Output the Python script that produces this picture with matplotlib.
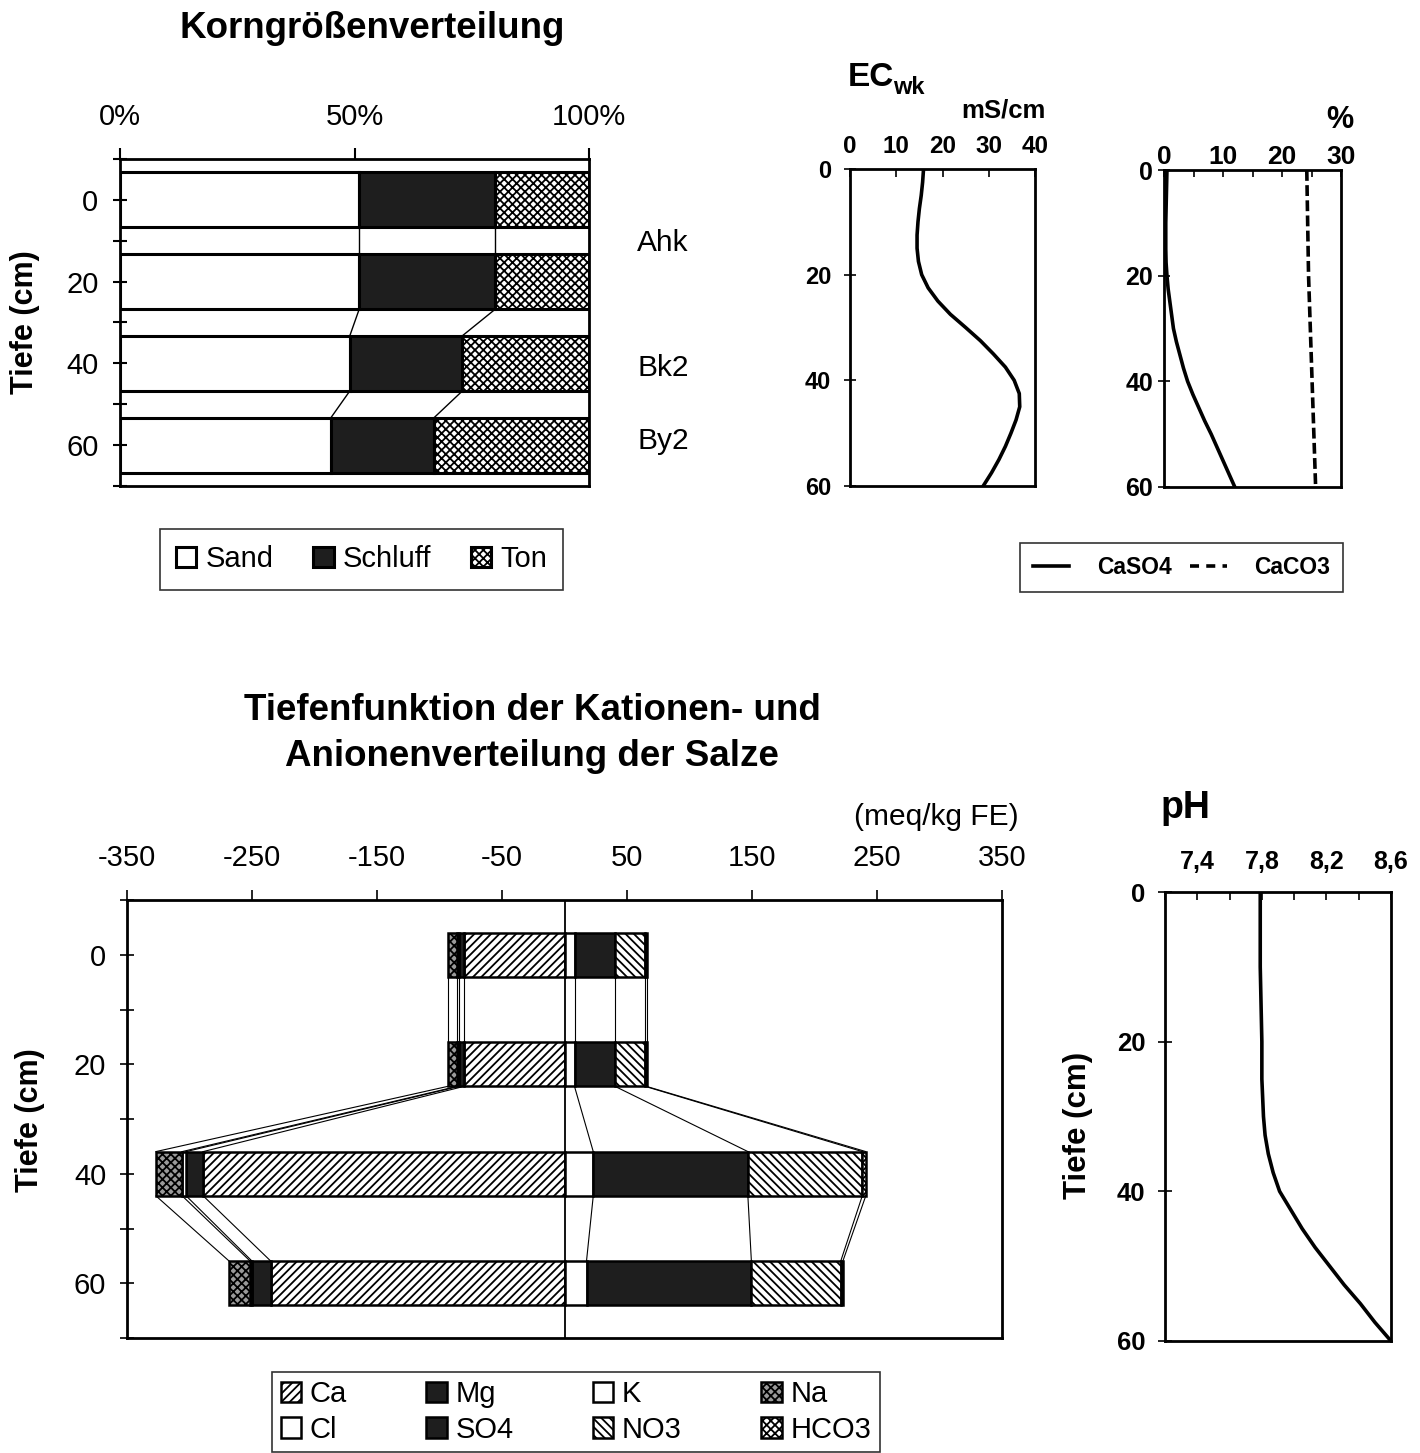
import matplotlib
matplotlib.use('Agg')
import matplotlib.pyplot as plt
from matplotlib.lines import Line2D

plt.rcParams['font.family'] = ['Liberation Sans', 'DejaVu Sans']
plt.rcParams['hatch.linewidth'] = 1.3
plt.rcParams['axes.unicode_minus'] = False

# ---------------- data ----------------
depths = [0, 20, 40, 60]
sand = [51, 51, 49, 45]
schluff = [29, 29, 24, 22]
ton = [20, 20, 27, 33]
horizons = ['Ahk', 'Bk2', 'By2']

ec_depth = [0, 2.5, 5, 7.5, 10, 12.5, 15, 17.5, 20, 22.5, 25, 27.5, 30, 32.5, 35,
            37.5, 40, 42.5, 45, 47.5, 50, 52.5, 55, 57.5, 60]
ec_val = [15.9, 15.7, 15.4, 15.0, 14.7, 14.5, 14.5, 14.8, 15.5, 16.9, 19.0, 21.7, 25.0,
          28.2, 31.0, 33.6, 35.5, 36.6, 36.7, 35.9, 34.8, 33.6, 32.2, 30.6, 28.8]

caso4_depth = [0, 5, 10, 15, 17.5, 20, 22.5, 25, 27.5, 30, 32.5, 35, 37.5, 40, 42.5,
               45, 47.5, 50, 52.5, 55, 57.5, 60]
caso4_val = [0.5, 0.4, 0.3, 0.3, 0.35, 0.5, 0.7, 1.0, 1.3, 1.6, 2.1, 2.7, 3.3, 4.0, 4.9,
             5.9, 6.9, 8.0, 9.0, 10.0, 11.0, 12.0]
caco3_depth = [0, 20, 40, 60]
caco3_val = [24.2, 24.5, 25.1, 25.7]

ph_depth = [0, 10, 20, 25, 30, 32.5, 35, 37.5, 40, 42.5, 45, 47.5, 50, 52.5, 55, 57.5, 60]
ph_val = [7.79, 7.79, 7.80, 7.80, 7.81, 7.82, 7.84, 7.87, 7.91, 7.98, 8.05, 8.13, 8.22,
          8.31, 8.41, 8.50, 8.60]

# meq/kg FE
ca = [80.6, 80.6, 289.0, 235.0]
mg = [4.0, 4.0, 13.6, 15.0]
k = [1.5, 1.5, 3.2, 1.5]
na = [7.5, 7.5, 21.0, 16.8]
cl = [8.0, 8.0, 23.0, 17.6]
so4 = [32.5, 32.5, 123.7, 131.9]
no3 = [24.2, 24.2, 91.5, 71.5]
hco3 = [1.0, 1.0, 2.8, 1.7]

# ---------------- layout helpers ----------------
W, H = 1420, 1453
fig = plt.figure(figsize=(W / 100, H / 100), dpi=100)
fig.patch.set_facecolor('white')


def ax_px(l, t, r, b):
    return fig.add_axes([l / W, 1 - b / H, (r - l) / W, (b - t) / H])


def ftext(x, y, s, **kw):
    kw.setdefault('ha', 'center')
    kw.setdefault('va', 'center')
    fig.text(x / W, 1 - y / H, s, **kw)


def frame(ax, lw=2.0):
    for sp in ax.spines.values():
        sp.set_linewidth(lw)
        sp.set_color('black')


def bold_ticks(ax):
    for lab in ax.get_xticklabels() + ax.get_yticklabels():
        lab.set_fontweight('bold')


DARK = '#1e1e1e'

# ---------------- Korngrößenverteilung ----------------
ax1 = ax_px(120, 159, 589, 486)
bh = 13.5
cum1 = sand
cum2 = [a + b for a, b in zip(sand, schluff)]
b_sand = ax1.barh(depths, sand, height=bh, color='white', edgecolor='black', lw=2.2)
b_silt = ax1.barh(depths, schluff, left=cum1, height=bh, color=DARK, edgecolor='black', lw=2.2)
b_ton = ax1.barh(depths, ton, left=cum2, height=bh, color='white', edgecolor='black',
                 lw=2.2, hatch='xxxx')
for cum in (cum1, cum2):
    for i in range(len(depths) - 1):
        ax1.plot([cum[i], cum[i + 1]], [depths[i] + bh / 2, depths[i + 1] - bh / 2],
                 color='black', lw=1.0)
ax1.set_xlim(0, 100)
ax1.set_ylim(70, -10)
ax1.xaxis.tick_top()
ax1.set_xticks([0, 50, 100])
ax1.set_xticklabels(['0%', '50%', '100%'], fontsize=21)
ax1.tick_params(axis='x', direction='out', length=8, width=1.5, pad=12.5)
ax1.set_yticks(list(range(-10, 71, 10)))
ax1.set_yticklabels(['' if t % 20 else str(t) for t in range(-10, 71, 10)], fontsize=21)
ax1.tick_params(axis='y', direction='inout', length=10, width=1.5, pad=10.5)
frame(ax1)
ftext(372, 28, 'Korngrößenverteilung', fontsize=26.5, fontweight='bold')
ftext(25, 322, 'Tiefe (cm)', fontsize=22, fontweight='bold', rotation=90)
for name, yy in zip(horizons, [243, 368, 441]):
    ftext(663, yy, name, fontsize=21.5)

leg1 = fig.legend([b_sand, b_silt, b_ton], ['Sand', 'Schluff', 'Ton'], ncol=3,
                  loc='center', bbox_to_anchor=(160 / W, 1 - 591 / H, 403 / W, 63 / H),
                  mode='expand', borderaxespad=0, fontsize=21, frameon=True, fancybox=False,
                  edgecolor='black', handlelength=0.7, handleheight=0.7, handletextpad=0.3,
                  borderpad=0.55, columnspacing=0.8)
leg1.get_frame().set_linewidth(1.2)

# ---------------- EC ----------------
ax2 = ax_px(850, 169, 1035, 486)
ax2.plot(ec_val, ec_depth, color='black', lw=2.6)
ax2.set_xlim(0, 40)
ax2.set_ylim(60, 0)
ax2.xaxis.tick_top()
ax2.set_xticks([0, 10, 20, 30, 40])
ax2.tick_params(axis='x', direction='in', length=6, width=1.2, pad=8, labelsize=17.5)
ax2.set_yticks([0, 20, 40, 60])
ax2.tick_params(axis='y', direction='inout', length=9, width=1.2, pad=9, labelsize=17)
bold_ticks(ax2)
frame(ax2)
ftext(848, 77, 'EC', fontsize=24, fontweight='bold', ha='left')
ftext(893, 87, 'wk', fontsize=17, fontweight='bold', ha='left')
ftext(1003, 110, 'mS/cm', fontsize=18.5, fontweight='bold')

# ---------------- CaSO4 / CaCO3 ----------------
ax3 = ax_px(1164, 170, 1341, 487)
ax3.plot(caso4_val, caso4_depth, color='black', lw=2.6)
ax3.plot(caco3_val, caco3_depth, color='black', lw=2.6, linestyle=(0, (3, 1.2)))
ax3.set_xlim(0, 30)
ax3.set_ylim(60, 0)
ax3.xaxis.tick_top()
ax3.set_xticks([0, 10, 20, 30])
ax3.set_xticks([5, 15, 25], minor=True)
ax3.tick_params(axis='x', which='both', direction='in', length=5, width=1.2, pad=1,
                labelsize=19)
ax3.set_yticks([0, 20, 40, 60])
ax3.tick_params(axis='y', direction='inout', length=9, width=1.2, pad=3.5, labelsize=18)
bold_ticks(ax3)
frame(ax3)
ftext(1340, 120, '%', fontsize=22, fontweight='bold')
leg3 = fig.legend([Line2D([], [], color='black', lw=2.6),
                   Line2D([], [], color='black', lw=2.6, linestyle=(0, (2.5, 2.0)))],
                  ['CaSO4', 'CaCO3'], ncol=2, loc='center',
                  bbox_to_anchor=(1020 / W, 1 - 592 / H, 323 / W, 49 / H), mode='expand',
                  borderaxespad=0, prop={'size': 16.5, 'weight': 'bold'}, frameon=True,
                  fancybox=False, edgecolor='black', handlelength=1.6, handletextpad=1.2,
                  borderpad=0.55, columnspacing=0.6)
leg3.get_frame().set_linewidth(1.2)

# ---------------- Kationen / Anionen ----------------
ax4 = ax_px(127, 900, 1002, 1338)
bh2 = 8.1
cat_series = [(ca, 'white', '////'), (mg, DARK, None), (k, 'white', None),
              (na, '#9a9a9a', 'xxxx')]
an_series = [(cl, 'white', None), (so4, DARK, None), (no3, 'white', '\\\\\\\\'),
             (hco3, 'white', 'xxxx')]
handles = {}
cat_bounds = []
left = [0.0] * 4
for vals, fc, hat in cat_series:
    b = ax4.barh(depths, [-v for v in vals], left=[-l for l in left], height=bh2,
                 color=fc, edgecolor='black', lw=1.8, hatch=hat)
    left = [l + v for l, v in zip(left, vals)]
    cat_bounds.append([-l for l in left])
    handles[id(vals)] = b
an_bounds = []
left = [0.0] * 4
for vals, fc, hat in an_series:
    b = ax4.barh(depths, vals, left=left, height=bh2, color=fc, edgecolor='black',
                 lw=1.8, hatch=hat)
    left = [l + v for l, v in zip(left, vals)]
    an_bounds.append(list(left))
    handles[id(vals)] = b
for bound in cat_bounds + an_bounds:
    for i in range(len(depths) - 1):
        ax4.plot([bound[i], bound[i + 1]], [depths[i] + bh2 / 2, depths[i + 1] - bh2 / 2],
                 color='black', lw=0.8)
ax4.axvline(0, color='black', lw=1.3)
ax4.set_xlim(-350, 350)
ax4.set_ylim(70, -10)
ax4.xaxis.tick_top()
ax4.set_xticks(list(range(-350, 351, 100)))
ax4.tick_params(axis='x', direction='out', length=7, width=1.2, pad=13, labelsize=21)
ax4.set_yticks(list(range(-10, 71, 10)))
ax4.set_yticklabels(['' if t % 20 else str(t) for t in range(-10, 71, 10)], fontsize=21)
ax4.tick_params(axis='y', direction='inout', length=10, width=1.2, pad=10)
frame(ax4)
ftext(532, 710, 'Tiefenfunktion der Kationen- und', fontsize=26.5, fontweight='bold')
ftext(532, 757, 'Anionenverteilung der Salze', fontsize=26.5, fontweight='bold')
ftext(936, 817, '(meq/kg FE)', fontsize=21.5)
ftext(30, 1120, 'Tiefe (cm)', fontsize=22, fontweight='bold', rotation=90)

leg_items = [(ca, 'Ca'), (cl, 'Cl'), (mg, 'Mg'), (so4, 'SO4'),
             (k, 'K'), (no3, 'NO3'), (na, 'Na'), (hco3, 'HCO3')]
leg4 = fig.legend([handles[id(v)] for v, _ in leg_items], [n for _, n in leg_items], ncol=4,
                  loc='center', bbox_to_anchor=(272 / W, 1 - 1452 / H, 608 / W, 80 / H),
                  mode='expand', borderaxespad=0, fontsize=21, frameon=True, fancybox=False,
                  edgecolor='black', handlelength=0.7, handleheight=0.7, handletextpad=0.3,
                  borderpad=0.3, labelspacing=0.25, columnspacing=0.8)
leg4.get_frame().set_linewidth(1.2)

# ---------------- pH ----------------
ax5 = ax_px(1165, 892, 1391, 1341)
ax5.plot(ph_val, ph_depth, color='black', lw=2.6)
ax5.set_xlim(7.2, 8.6)
ax5.set_ylim(60, 0)
ax5.xaxis.tick_top()
ax5.set_xticks([7.4, 7.8, 8.2, 8.6])
ax5.set_xticklabels(['7,4', '7,8', '8,2', '8,6'])
ax5.set_xticks([7.2, 7.6, 8.0, 8.4], minor=True)
ax5.tick_params(axis='x', which='both', direction='in', length=6, width=1.2, pad=13,
                labelsize=18)
ax5.set_yticks([0, 20, 40, 60])
ax5.tick_params(axis='y', direction='inout', length=10, width=1.2, pad=9, labelsize=18.5)
bold_ticks(ax5)
frame(ax5)
ftext(1185, 808, 'pH', fontsize=27, fontweight='bold')
ftext(1078, 1125, 'Tiefe (cm)', fontsize=22.5, fontweight='bold', rotation=90)

fig.savefig('out.png', dpi=100, facecolor='white')
